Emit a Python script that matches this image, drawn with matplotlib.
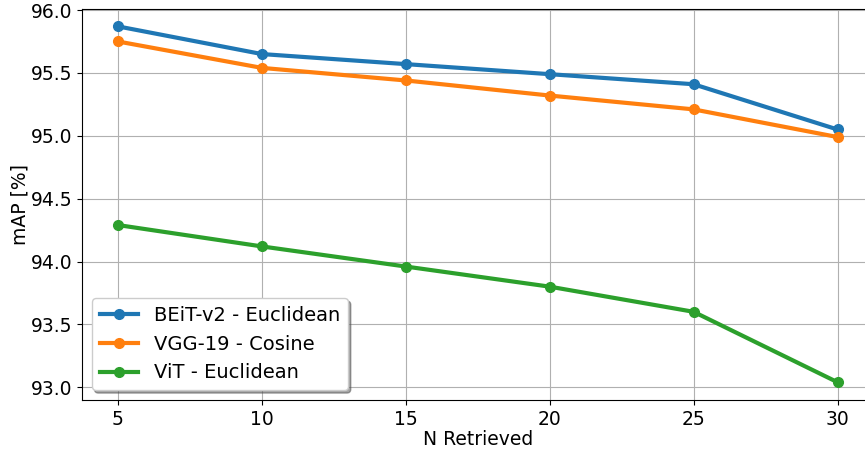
import matplotlib
matplotlib.use("Agg")
import matplotlib.pyplot as plt

n_retrieved = [5, 10, 15, 20, 25, 30]
beit_euclid = [95.87, 95.65, 95.57, 95.49, 95.41, 95.05]
vgg_cosine = [95.75, 95.54, 95.44, 95.32, 95.21, 94.99]
vit_euclid = [94.29, 94.12, 93.96, 93.80, 93.60, 93.04]

fig = plt.figure(figsize=(8.65, 4.53), dpi=100)
ax = fig.add_axes([0.0948, 0.117, 0.915, 0.864])

ax.plot(n_retrieved, beit_euclid, marker="o", lw=3, ms=7, label="BEiT-v2 - Euclidean")
ax.plot(n_retrieved, vgg_cosine, marker="o", lw=3, ms=7, label="VGG-19 - Cosine")
ax.plot(n_retrieved, vit_euclid, marker="o", lw=3, ms=7, label="ViT - Euclidean")

ax.set_xticks(n_retrieved)
ax.tick_params(labelsize=13.5)
ax.set_xlabel("N Retrieved", fontsize=13.5, labelpad=1)
ax.set_ylabel("mAP [%]", fontsize=13.5, labelpad=1)
ax.grid(True)
ax.legend(loc="lower left", fontsize=14, shadow=True)

fig.savefig("out.png", dpi=100)
